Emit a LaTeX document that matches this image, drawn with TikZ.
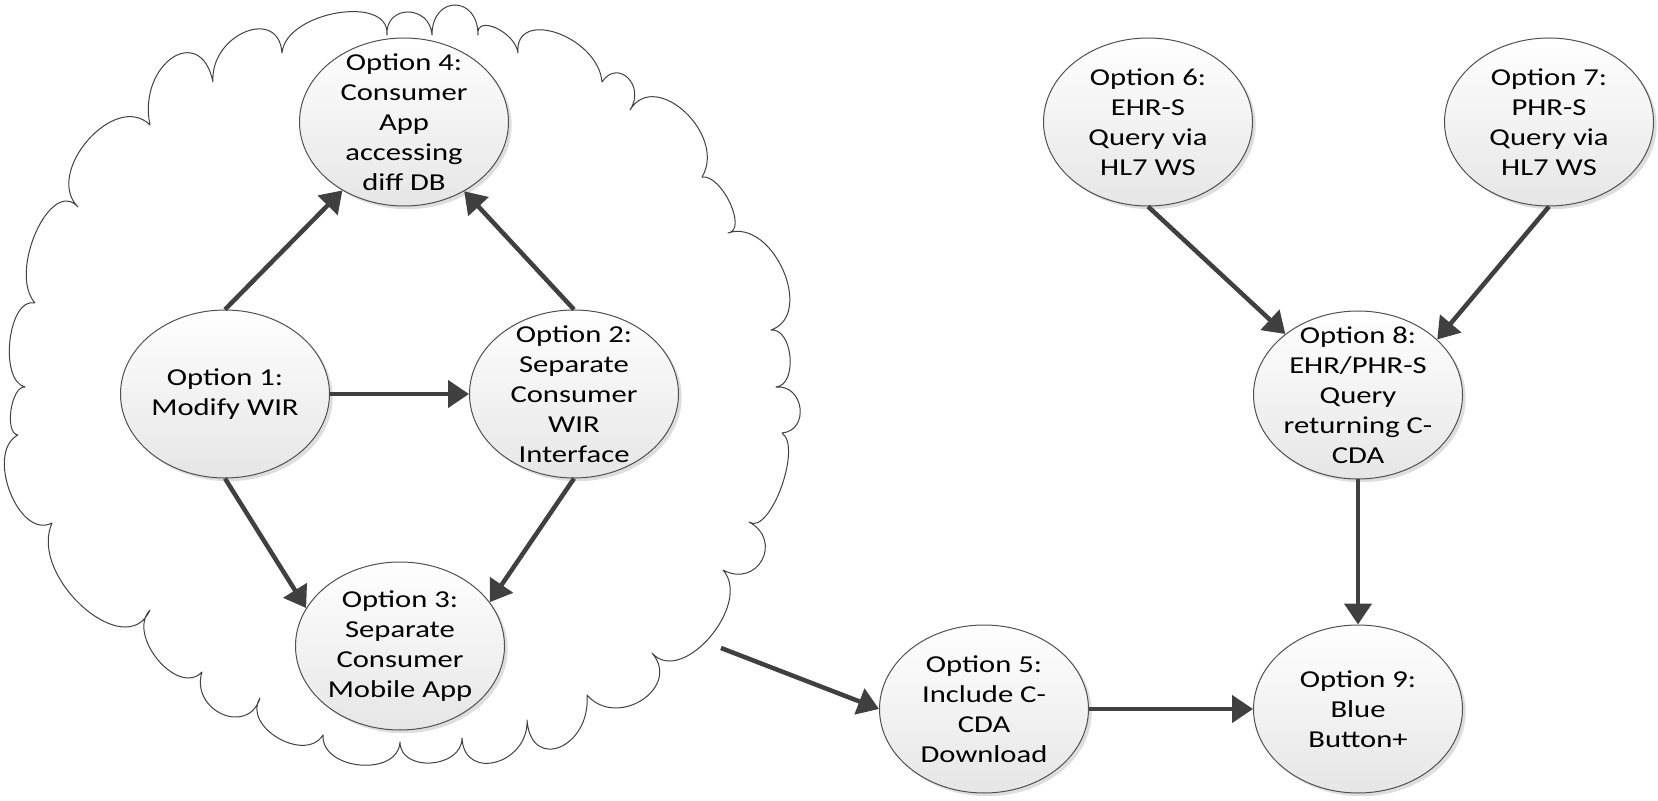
\documentclass[tikz,border=0pt]{standalone}
\usepackage{fontspec}
\setmainfont{Carlito}[FakeStretch=1.26]
\usetikzlibrary{arrows.meta,shapes.geometric,shadows}
\definecolor{arrowgray}{HTML}{404040}
\definecolor{linegray}{HTML}{505050}
\definecolor{fillbottom}{HTML}{E6E6E6}
\begin{document}
\begin{tikzpicture}[x=0.5pt,y=-0.5pt,
  opt/.style={ellipse, draw=linegray, line width=0.5pt,
    minimum width=104.5pt, minimum height=84pt, inner sep=-25pt,
    align=center, top color=white, bottom color=fillbottom,
    font=\fontsize{12.15}{15}\selectfont,
    drop shadow={shadow xshift=1.6pt, shadow yshift=-1.6pt, fill=black, opacity=0.13}},
  conn/.style={draw=arrowgray, line width=2.25pt,
    -{Triangle[length=10.5pt,width=13.5pt]}},
  cloudline/.style={draw=arrowgray, line width=0.5pt, line join=round}]
\useasboundingbox (0,0) rectangle (1658,801);

% cloud outline
\draw[cloudline] (35,303)
  \foreach \ax/\ay/\px/\py/\bx/\by in {
    35/303/36/232/78/207,
    78/207/88/140/150/125,
    150/125/172/58/213/82,
    213/82/245/32/282/53,
    282/53/337/13/387/35,
    387/35/408/12/432/35,
    432/35/455/5/478/35,
    478/35/496/28/518/53,
    518/53/557/33/602/82,
    602/82/628/78/630/110,
    630/110/685/112/702/177,
    702/177/730/203/728/233,
    728/233/783/270/771/330,
    771/330/790/357/776/387,
    776/387/800/408/782/433,
    782/433/781/488/749/522,
    749/522/762/560/723/570,
    723/570/710/637/652/653,
    652/653/642/700/587/695,
    587/695/560/747/527/720,
    527/720/496/762/462/738,
    462/738/431/763/400/742,
    400/742/360/765/323/735,
    323/735/278/738/260/698,
    260/698/222/714/202/672,
    202/672/158/660/150/610,
    150/610/83/607/52/523,
    52/523/10/492/18/435,
    18/435/11/410/25/387,
    25/387/10/340/35/303}
  { .. controls ({\ax/3+4*\px/3-2*\bx/3},{\ay/3+4*\py/3-2*\by/3})
       and ({\bx/3+4*\px/3-2*\ax/3},{\by/3+4*\py/3-2*\ay/3}) .. (\bx,\by) };

% nodes
\node[opt] (o4) at (404,122) {Option 4:\\Consumer\\App\\accessing\\diff DB};
\node[opt] (o1) at (225,394) {Option 1:\\Modify WIR};
\node[opt] (o2) at (574,394) {Option 2:\\Separate\\Consumer\\WIR\\Interface};
\node[opt] (o3) at (400,646) {Option 3:\\Separate\\Consumer\\Mobile App};
\node[opt] (o5) at (984,709) {Option 5:\\Include C-\\CDA\\Download};
\node[opt] (o6) at (1148,122) {Option 6:\\EHR-S\\Query via\\HL7 WS};
\node[opt] (o7) at (1549,122) {Option 7:\\PHR-S\\Query via\\HL7 WS};
\node[opt] (o8) at (1358,395) {Option 8:\\EHR/PHR-S\\Query\\returning C-\\CDA};
\node[opt] (o9) at (1358,709) {Option 9:\\Blue\\Button+};
\coordinate (cloudout) at (721,648);

% connectors
\draw[conn] (o1.north) -- (o4.228);
\draw[conn] (o2.north) -- (o4.311);
\draw[conn] (o1.east) -- (o2.west);
\draw[conn] (o1.south) -- (o3.158);
\draw[conn] (o2.south) -- (o3.26);
\draw[conn] (cloudout) -- (o5.west);
\draw[conn] (o5.east) -- (o9.west);
\draw[conn] (o6.south) -- (o8.140);
\draw[conn] (o7.south) -- (o8.35);
\draw[conn] (o8.south) -- (o9.north);
\end{tikzpicture}
\end{document}
